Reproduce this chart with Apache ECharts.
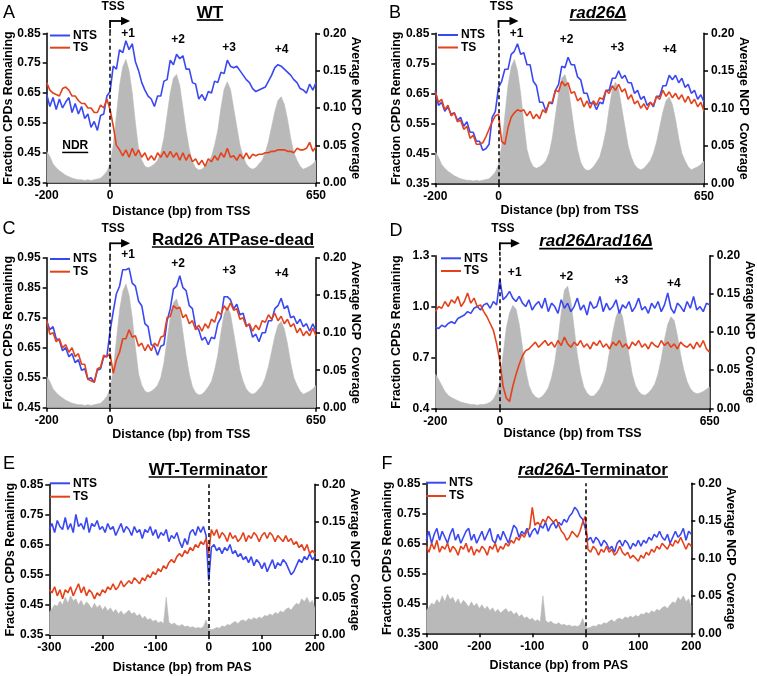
<!DOCTYPE html>
<html><head><meta charset="utf-8">
<script src="https://cdn.jsdelivr.net/npm/echarts@6/dist/echarts.min.js"></script>
<style>html,body{margin:0;padding:0;background:#fff}#c{width:757px;height:676px}</style>
</head><body><div id="c"></div>
<script>
// ---------------- DATA ----------------
// TSS panels: x from -200 to 650 bp, step 10 bp
const TSS_START = -200, TSS_STEP = 10;
// Terminator panels: x from -300 to 200 bp, step 5 bp
const TERM_START = -300, TERM_STEP = 5;

const TSS_X_TICKS = [-200, 0, 650];
const TERM_X_TICKS = [-300, -200, -100, 0, 100, 200];
const Y_TICKS_A = [0.35, 0.45, 0.55, 0.65, 0.75, 0.85];
const Y_TICKS_C = [0.45, 0.55, 0.65, 0.75, 0.85, 0.95];
const Y_TICKS_D = [0.4, 0.7, 1.0, 1.3];
const NCP_TICKS = [0, 0.05, 0.10, 0.15, 0.20];

const A_NTS = [
0.645,0.605,0.635,0.595,0.63,0.60,0.62,0.635,0.585,0.615,
0.58,0.605,0.565,0.58,0.535,0.555,0.525,0.575,0.58,0.64,
0.655,0.74,0.73,0.795,0.785,0.825,0.795,0.815,0.755,0.725,
0.685,0.66,0.64,0.63,0.605,0.64,0.64,0.69,0.695,0.76,
0.745,0.78,0.765,0.775,0.73,0.73,0.685,0.68,0.63,0.645,
0.625,0.655,0.65,0.69,0.685,0.72,0.715,0.76,0.74,0.735,
0.74,0.725,0.71,0.695,0.685,0.665,0.655,0.66,0.665,0.67,
0.69,0.71,0.735,0.745,0.74,0.73,0.72,0.71,0.695,0.685,
0.665,0.66,0.65,0.68,0.66,0.685];
const A_TS = [
0.685,0.66,0.65,0.645,0.64,0.665,0.67,0.66,0.64,0.64,
0.625,0.615,0.615,0.60,0.60,0.585,0.585,0.61,0.60,0.63,
0.595,0.54,0.475,0.46,0.44,0.46,0.435,0.465,0.44,0.46,
0.435,0.45,0.425,0.44,0.425,0.45,0.435,0.455,0.435,0.455,
0.435,0.45,0.425,0.45,0.425,0.445,0.42,0.43,0.41,0.425,
0.405,0.43,0.42,0.44,0.425,0.45,0.435,0.465,0.435,0.44,
0.425,0.445,0.43,0.45,0.43,0.445,0.44,0.445,0.445,0.45,
0.45,0.455,0.455,0.46,0.46,0.46,0.455,0.455,0.45,0.465,
0.46,0.46,0.465,0.485,0.455,0.47];
const B_NTS = [
0.66,0.61,0.62,0.59,0.605,0.58,0.585,0.56,0.57,0.54,
0.555,0.52,0.52,0.49,0.49,0.46,0.465,0.48,0.57,0.59,
0.67,0.69,0.73,0.73,0.78,0.79,0.815,0.78,0.785,0.745,
0.745,0.69,0.675,0.62,0.62,0.59,0.62,0.615,0.66,0.68,
0.74,0.735,0.77,0.745,0.745,0.705,0.695,0.65,0.65,0.615,
0.62,0.595,0.62,0.615,0.66,0.66,0.70,0.70,0.725,0.70,
0.71,0.685,0.685,0.65,0.66,0.63,0.64,0.61,0.62,0.605,
0.64,0.64,0.675,0.675,0.71,0.695,0.71,0.685,0.70,0.67,
0.68,0.65,0.66,0.63,0.645,0.62];
const B_TS = [
0.655,0.62,0.63,0.595,0.61,0.575,0.585,0.555,0.56,0.53,
0.54,0.50,0.51,0.48,0.48,0.485,0.505,0.53,0.555,0.575,
0.58,0.49,0.48,0.535,0.57,0.585,0.595,0.59,0.595,0.575,
0.59,0.565,0.58,0.565,0.595,0.585,0.62,0.62,0.66,0.655,
0.69,0.675,0.685,0.65,0.655,0.625,0.635,0.605,0.625,0.60,
0.625,0.61,0.635,0.63,0.66,0.65,0.675,0.66,0.68,0.655,
0.665,0.63,0.645,0.615,0.625,0.60,0.615,0.595,0.62,0.61,
0.64,0.63,0.66,0.64,0.655,0.635,0.65,0.63,0.645,0.62,
0.64,0.615,0.63,0.605,0.62,0.59];
const C_NTS = [
0.74,0.71,0.72,0.68,0.675,0.64,0.65,0.62,0.63,0.60,
0.61,0.575,0.58,0.545,0.55,0.535,0.575,0.58,0.62,0.62,
0.705,0.77,0.83,0.855,0.91,0.91,0.915,0.865,0.855,0.805,
0.79,0.73,0.72,0.66,0.655,0.625,0.655,0.66,0.74,0.78,
0.845,0.855,0.89,0.85,0.84,0.79,0.78,0.72,0.71,0.675,
0.685,0.66,0.685,0.68,0.73,0.75,0.82,0.82,0.81,0.78,
0.795,0.76,0.765,0.725,0.725,0.685,0.695,0.67,0.70,0.70,
0.74,0.74,0.78,0.79,0.815,0.78,0.79,0.75,0.755,0.73,
0.745,0.72,0.73,0.705,0.73,0.705];
const C_TS = [
0.74,0.695,0.70,0.67,0.68,0.65,0.66,0.635,0.65,0.62,
0.63,0.595,0.595,0.545,0.54,0.535,0.58,0.585,0.625,0.62,
0.63,0.565,0.61,0.635,0.68,0.68,0.71,0.685,0.69,0.655,
0.665,0.64,0.66,0.64,0.665,0.655,0.685,0.69,0.75,0.755,
0.79,0.78,0.785,0.75,0.76,0.73,0.74,0.71,0.725,0.705,
0.73,0.715,0.745,0.735,0.77,0.76,0.79,0.775,0.80,0.775,
0.78,0.745,0.75,0.72,0.73,0.705,0.725,0.71,0.74,0.735,
0.76,0.745,0.765,0.74,0.755,0.73,0.745,0.72,0.73,0.70,
0.715,0.69,0.705,0.69,0.715,0.69];
const D_NTS = [
0.88,0.87,0.89,0.88,0.90,0.91,0.90,0.93,0.94,0.95,
0.97,0.96,0.99,1.00,0.98,1.01,1.02,0.99,1.03,1.01,
1.16,1.04,1.06,1.09,1.05,1.03,1.06,1.02,1.00,1.04,
0.98,1.01,1.03,0.99,1.05,0.97,1.02,1.00,0.96,1.04,
0.99,1.02,0.97,1.00,1.05,0.98,1.01,0.95,1.03,0.99,
1.00,1.06,0.97,1.02,0.98,1.00,1.04,0.96,1.01,0.99,
1.03,0.97,1.00,1.05,0.98,1.00,0.96,1.02,0.99,1.03,
0.97,1.01,1.08,0.99,0.96,1.02,1.00,0.97,1.03,0.99,
1.06,0.98,1.00,0.97,1.02,1.01];
const D_TS = [
0.97,1.00,0.99,1.03,1.00,1.04,1.02,1.06,1.00,1.03,
1.08,1.02,1.05,1.00,1.01,0.97,0.94,0.90,0.86,0.78,
0.68,0.53,0.46,0.44,0.53,0.60,0.66,0.71,0.74,0.75,
0.77,0.79,0.76,0.78,0.80,0.77,0.79,0.76,0.80,0.77,
0.82,0.78,0.76,0.79,0.77,0.80,0.76,0.78,0.75,0.79,
0.77,0.80,0.76,0.78,0.75,0.79,0.77,0.80,0.76,0.78,
0.75,0.79,0.77,0.80,0.76,0.78,0.75,0.79,0.77,0.76,
0.80,0.77,0.79,0.76,0.78,0.75,0.79,0.77,0.76,0.78,
0.75,0.79,0.76,0.80,0.75,0.73];
const NCP_ABC = [
0.042,0.035,0.025,0.02,0.016,0.013,0.01,0.008,0.006,0.005,
0.004,0.004,0.003,0.004,0.003,0.004,0.005,0.006,0.01,0.015,
0.025,0.05,0.09,0.13,0.155,0.165,0.15,0.12,0.08,0.045,
0.03,0.022,0.02,0.022,0.025,0.03,0.04,0.06,0.09,0.12,
0.14,0.145,0.13,0.1,0.07,0.045,0.028,0.02,0.017,0.018,
0.022,0.028,0.035,0.05,0.07,0.1,0.125,0.135,0.125,0.1,
0.075,0.05,0.035,0.025,0.02,0.018,0.02,0.025,0.03,0.04,
0.055,0.075,0.095,0.11,0.115,0.105,0.085,0.06,0.04,0.03,
0.022,0.018,0.02,0.022,0.025,0.03];
const NCP_D = [
0.045,0.038,0.03,0.022,0.017,0.014,0.012,0.01,0.008,0.007,
0.006,0.005,0.005,0.004,0.005,0.005,0.006,0.008,0.012,0.02,
0.035,0.07,0.105,0.125,0.135,0.13,0.11,0.08,0.05,0.03,
0.02,0.015,0.013,0.015,0.02,0.027,0.04,0.06,0.09,0.125,
0.155,0.16,0.14,0.105,0.07,0.045,0.028,0.02,0.016,0.016,
0.02,0.026,0.035,0.05,0.075,0.1,0.12,0.13,0.12,0.095,
0.07,0.045,0.03,0.022,0.018,0.017,0.02,0.025,0.032,0.045,
0.065,0.09,0.11,0.12,0.115,0.095,0.07,0.05,0.035,0.026,
0.021,0.019,0.02,0.022,0.025,0.028];
const E_NTS = [
0.70,0.72,0.69,0.73,0.71,0.70,0.74,0.70,0.72,0.69,
0.75,0.71,0.72,0.70,0.74,0.69,0.72,0.71,0.73,0.70,
0.71,0.69,0.72,0.70,0.71,0.68,0.70,0.72,0.69,0.71,
0.70,0.68,0.71,0.69,0.70,0.67,0.70,0.69,0.71,0.68,
0.70,0.67,0.69,0.68,0.70,0.66,0.68,0.67,0.69,0.66,
0.64,0.67,0.65,0.69,0.70,0.68,0.71,0.69,0.71,0.68,
0.53,0.64,0.65,0.63,0.64,0.62,0.64,0.63,0.65,0.62,
0.63,0.61,0.62,0.60,0.61,0.59,0.61,0.58,0.60,0.59,
0.57,0.59,0.56,0.58,0.60,0.57,0.59,0.58,0.60,0.59,
0.57,0.55,0.56,0.58,0.60,0.59,0.61,0.60,0.62,0.60,
0.61];
const E_TS = [
0.50,0.49,0.51,0.48,0.50,0.47,0.50,0.49,0.51,0.48,
0.50,0.52,0.49,0.51,0.48,0.50,0.49,0.47,0.49,0.48,
0.50,0.49,0.51,0.50,0.52,0.50,0.51,0.53,0.51,0.52,
0.53,0.52,0.54,0.53,0.52,0.54,0.53,0.55,0.54,0.56,
0.55,0.57,0.56,0.58,0.57,0.59,0.60,0.59,0.61,0.62,
0.61,0.63,0.62,0.64,0.63,0.65,0.64,0.66,0.65,0.67,
0.62,0.70,0.68,0.70,0.67,0.69,0.68,0.66,0.69,0.67,
0.68,0.66,0.67,0.69,0.66,0.68,0.67,0.69,0.68,0.66,
0.68,0.69,0.67,0.69,0.68,0.66,0.68,0.67,0.66,0.68,
0.66,0.67,0.65,0.66,0.64,0.65,0.63,0.65,0.62,0.63,
0.62];
const F_NTS = [
0.66,0.69,0.65,0.68,0.70,0.66,0.69,0.67,0.65,0.68,
0.70,0.66,0.68,0.65,0.67,0.69,0.70,0.66,0.68,0.65,
0.67,0.69,0.66,0.68,0.70,0.66,0.65,0.68,0.66,0.69,
0.67,0.65,0.68,0.71,0.70,0.67,0.69,0.68,0.70,0.67,
0.69,0.70,0.68,0.71,0.70,0.72,0.69,0.71,0.72,0.70,
0.72,0.71,0.73,0.72,0.74,0.75,0.77,0.76,0.74,0.73,
0.70,0.66,0.67,0.65,0.67,0.66,0.64,0.66,0.65,0.63,
0.64,0.62,0.65,0.66,0.64,0.66,0.65,0.63,0.65,0.64,
0.66,0.64,0.66,0.65,0.67,0.66,0.68,0.67,0.69,0.67,
0.66,0.68,0.65,0.67,0.69,0.67,0.68,0.70,0.66,0.69,
0.68];
const F_TS = [
0.64,0.62,0.65,0.63,0.66,0.62,0.64,0.63,0.65,0.62,
0.64,0.63,0.61,0.64,0.63,0.65,0.62,0.64,0.61,0.63,
0.62,0.64,0.63,0.61,0.64,0.63,0.65,0.62,0.64,0.63,
0.65,0.64,0.66,0.65,0.67,0.66,0.68,0.67,0.69,0.70,
0.77,0.71,0.72,0.71,0.73,0.72,0.74,0.73,0.72,0.73,
0.71,0.69,0.68,0.66,0.67,0.69,0.68,0.67,0.69,0.72,
0.74,0.63,0.62,0.64,0.63,0.61,0.63,0.62,0.64,0.62,
0.63,0.61,0.62,0.64,0.62,0.61,0.62,0.60,0.61,0.60,
0.59,0.61,0.60,0.62,0.61,0.63,0.62,0.64,0.63,0.65,
0.64,0.63,0.65,0.64,0.66,0.65,0.67,0.65,0.63,0.65,
0.64];
const NCP_TERM = [
0.03,0.035,0.04,0.038,0.045,0.04,0.05,0.042,0.052,0.045,
0.048,0.04,0.046,0.038,0.044,0.04,0.035,0.042,0.036,0.04,
0.033,0.038,0.032,0.036,0.03,0.034,0.028,0.032,0.027,0.03,
0.033,0.028,0.03,0.025,0.028,0.022,0.025,0.02,0.022,0.018,
0.02,0.016,0.018,0.015,0.05,0.017,0.014,0.016,0.013,0.012,
0.014,0.011,0.012,0.01,0.011,0.009,0.01,0.009,0.011,0.02,
0.008,0.007,0.008,0.01,0.009,0.012,0.011,0.014,0.013,0.016,
0.018,0.015,0.019,0.02,0.018,0.022,0.02,0.023,0.021,0.024,
0.022,0.026,0.025,0.028,0.026,0.03,0.028,0.032,0.03,0.034,
0.036,0.033,0.038,0.042,0.04,0.048,0.044,0.05,0.042,0.046,
0.035];

// peak annotation anchors (data coords)
const PEAK_LABELS = ['+1', '+2', '+3', '+4'];
const PEAK_X_ABC = [57, 215, 376, 541];
const PEAK_X_D = [46, 206, 376, 539];
const PEAK_Y_A = [0.85, 0.828, 0.803, 0.795];
const PEAK_Y_B = [0.85, 0.828, 0.803, 0.794];
const PEAK_Y_C = [0.959, 0.931, 0.906, 0.898];
const PEAK_Y_D = [1.202, 1.176, 1.15, 1.137];

// ---------------- STYLE / LAYOUT ----------------
const FONT = '"Liberation Sans", Arial, Helvetica, sans-serif';
const BLUE = '#3a48f2', RED = '#e5421c', GRAY = '#b9b9b9';

const makeX = (start, step, n) => Array.from({length: n}, (_, k) => start + step * k);
const TSS_X = makeX(TSS_START, TSS_STEP, A_NTS.length);
const TERM_X = makeX(TERM_START, TERM_STEP, E_NTS.length);

const PANELS = [
  {letter:'A', title:[{t:'WT', i:false}], x:TSS_X, nts:A_NTS, ts:A_TS, ncp:NCP_ABC, ymin:0.35, ymax:0.85, yTicks:Y_TICKS_A, dec:2, xmin:-200, xmax:650, xTicks:TSS_X_TICKS, xName:'Distance (bp) from TSS', tss:true, peakX:PEAK_X_ABC, peakY:PEAK_Y_A},
  {letter:'B', title:[{t:'rad26Δ', i:true}], x:TSS_X, nts:B_NTS, ts:B_TS, ncp:NCP_ABC, ymin:0.35, ymax:0.85, yTicks:Y_TICKS_A, dec:2, xmin:-200, xmax:650, xTicks:TSS_X_TICKS, xName:'Distance (bp) from TSS', tss:true, peakX:PEAK_X_ABC, peakY:PEAK_Y_B},
  {letter:'C', title:[{t:'Rad26 ATPase-dead', i:false}], x:TSS_X, nts:C_NTS, ts:C_TS, ncp:NCP_ABC, ymin:0.45, ymax:0.95, yTicks:Y_TICKS_C, dec:2, xmin:-200, xmax:650, xTicks:TSS_X_TICKS, xName:'Distance (bp) from TSS', tss:true, peakX:PEAK_X_ABC, peakY:PEAK_Y_C},
  {letter:'D', title:[{t:'rad26Δrad16Δ', i:true}], x:TSS_X, nts:D_NTS, ts:D_TS, ncp:NCP_D, ymin:0.4, ymax:1.3, yTicks:Y_TICKS_D, dec:1, xmin:-200, xmax:650, xTicks:TSS_X_TICKS, xName:'Distance (bp) from TSS', tss:true, peakX:PEAK_X_D, peakY:PEAK_Y_D},
  {letter:'E', title:[{t:'WT-Terminator', i:false}], x:TERM_X, nts:E_NTS, ts:E_TS, ncp:NCP_TERM, ymin:0.35, ymax:0.85, yTicks:Y_TICKS_A, dec:2, xmin:-300, xmax:200, xTicks:TERM_X_TICKS, xName:'Distance (bp) from PAS', tss:false},
  {letter:'F', title:[{t:'rad26Δ', i:true},{t:'-Terminator', i:false}], x:TERM_X, nts:F_NTS, ts:F_TS, ncp:NCP_TERM, ymin:0.35, ymax:0.85, yTicks:Y_TICKS_A, dec:2, xmin:-300, xmax:200, xTicks:TERM_X_TICKS, xName:'Distance (bp) from PAS', tss:false}
];

const LAYOUT = [
  {grid:{left:46.7,top:33.3,width:269.3,height:149.4}, letter:[9,13], title:[210,13], legend:[50,35.5,47.7], arrowY:21, xNameGap:22},
  {grid:{left:435.3,top:33.3,width:268.7,height:150}, letter:[395,13], title:[598,13], legend:[438,35,47.5], arrowY:21, xNameGap:21},
  {grid:{left:46.7,top:257.7,width:269.3,height:150}, letter:[9,229], title:[233,240], legend:[50,259,271.7], arrowY:243.3, xNameGap:20},
  {grid:{left:435.3,top:255.7,width:274.4,height:152.6}, letter:[396,231], title:[596,241.7], legend:[441,258.3,271], arrowY:243.3, xNameGap:19},
  {grid:{left:49.3,top:484.3,width:265.7,height:150.7}, letter:[9,464], title:[208,470], legend:[50,483.3,496.7], arrowY:null, xNameGap:26},
  {grid:{left:426.3,top:483.3,width:265,height:150}, letter:[387,464], title:[593,470], legend:[426,482.7,496], arrowY:null, xNameGap:26}
];

const chart = echarts.init(document.getElementById('c'), null, {renderer:'canvas'});
const pairs = (xs, ys) => ys.map((v, k) => [xs[k], v]);
const axisLineStyle = {color:'#000', width:1.5};
const labelStyle = {fontFamily:FONT, fontWeight:'bold', fontSize:12, color:'#000'};
const nameStyle = {fontFamily:FONT, fontWeight:'bold', fontSize:12.5, color:'#000'};

const grids = [], xAxis = [], yAxis = [], series = [];
PANELS.forEach((p, i) => {
  const L = LAYOUT[i];
  grids.push(Object.assign({containLabel:false, outerBoundsMode:'none'}, L.grid));
  xAxis.push({
    type:'value', gridIndex:i, min:p.xmin, max:p.xmax,
    name:p.xName, nameLocation:'middle', nameGap:L.xNameGap, nameTextStyle:nameStyle, nameMoveOverlap:false,
    axisLine:{onZero:false, lineStyle:axisLineStyle},
    axisTick:{show:true, inside:false, length:4, lineStyle:axisLineStyle, customValues:p.xTicks},
    axisLabel:Object.assign({customValues:p.xTicks, margin:7, showMinLabel:true, showMaxLabel:true}, labelStyle),
    splitLine:{show:false}
  });
  yAxis.push({
    type:'value', gridIndex:i, position:'left', min:p.ymin, max:p.ymax,
    name:'Fraction CPDs Remaining', nameLocation:'middle', nameGap:32, nameRotate:90, nameTextStyle:nameStyle, nameMoveOverlap:false,
    axisLine:{show:true, onZero:false, lineStyle:axisLineStyle},
    axisTick:{show:true, length:4, lineStyle:axisLineStyle, customValues:p.yTicks},
    axisLabel:Object.assign({customValues:p.yTicks, margin:6, formatter:(v) => Number(v).toFixed(p.dec)}, labelStyle),
    splitLine:{show:false}
  });
  yAxis.push({
    type:'value', gridIndex:i, position:'right', min:0, max:0.2,
    name:'Average NCP  Coverage', nameLocation:'middle', nameGap:33, nameRotate:-90, nameTextStyle:nameStyle, nameMoveOverlap:false,
    axisLine:{show:true, onZero:false, lineStyle:axisLineStyle},
    axisTick:{show:true, length:4, lineStyle:axisLineStyle, customValues:NCP_TICKS},
    axisLabel:Object.assign({customValues:NCP_TICKS, margin:7, formatter:(v) => Number(v).toFixed(2)}, labelStyle),
    splitLine:{show:false}
  });
  series.push({type:'line', xAxisIndex:i, yAxisIndex:2*i+1, data:pairs(p.x, p.ncp), symbol:'none', silent:true,
    lineStyle:{width:0.6, color:GRAY}, areaStyle:{color:GRAY, opacity:1}, z:1});
  series.push({type:'line', name:'NTS', xAxisIndex:i, yAxisIndex:2*i, data:pairs(p.x, p.nts), symbol:'none', silent:true,
    lineStyle:{width:1.6, color:BLUE}, itemStyle:{color:BLUE}, z:3});
  series.push({type:'line', name:'TS', xAxisIndex:i, yAxisIndex:2*i, data:pairs(p.x, p.ts), symbol:'none', silent:true,
    lineStyle:{width:1.6, color:RED}, itemStyle:{color:RED}, z:4,
    markLine:{silent:true, symbol:['none','none'], label:{show:false}, animation:false,
      lineStyle:{color:'#000', width:1.5, type:[4,3]}, data:[{xAxis:0}]}});
});

chart.setOption({animation:false, textStyle:{fontFamily:FONT}, grid:grids, xAxis:xAxis, yAxis:yAxis, series:series});

// ---------------- ANNOTATIONS ----------------
const mctx = document.createElement('canvas').getContext('2d');
function tw(text, font){ mctx.font = font; return mctx.measureText(text).width; }
function txt(t, x, y, font, align){
  align = align || 'center';
  return {type:'text', z:100, silent:true, style:{text:t, x:x, y:y, font:font, fill:'#000', align:align, verticalAlign:'middle', textAlign:align, textVerticalAlign:'middle'}};
}
function ln(x1, y1, x2, y2, w, color, dash){
  return {type:'line', z:100, silent:true, shape:{x1:x1, y1:y1, x2:x2, y2:y2}, style:{stroke:color || '#000', lineWidth:w, lineDash:dash || null}};
}
const els = [];
PANELS.forEach((p, i) => {
  const L = LAYOUT[i], g = L.grid;
  els.push(txt(p.letter, L.letter[0], L.letter[1], '18px ' + FONT));
  const fB = 'bold 17px ' + FONT, fI = 'italic bold 17px ' + FONT;
  let w = 0, rt = '';
  p.title.forEach(s => { w += tw(s.t, s.i ? fI : fB); rt += '{' + (s.i ? 'i' : 'n') + '|' + s.t + '}'; });
  els.push({type:'text', z:100, silent:true, style:{text:rt, x:L.title[0], y:L.title[1], align:'center', verticalAlign:'middle', textAlign:'center', textVerticalAlign:'middle',
    rich:{i:{font:fI, fill:'#000'}, n:{font:fB, fill:'#000'}}}});
  els.push(ln(L.title[0] - w/2, L.title[1] + 7, L.title[0] + w/2, L.title[1] + 7, 1.7));
  const lx = L.legend[0];
  els.push(ln(lx, L.legend[1], lx + 20, L.legend[1], 2, BLUE));
  els.push(ln(lx, L.legend[2], lx + 20, L.legend[2], 2, RED));
  els.push(txt('NTS', lx + 23, L.legend[1], 'bold 12px ' + FONT, 'left'));
  els.push(txt('TS', lx + 23, L.legend[2], 'bold 12px ' + FONT, 'left'));
  if (p.tss) {
    const x0 = chart.convertToPixel({xAxisIndex:i}, 0);
    const ay = L.arrowY;
    els.push(ln(x0, g.top, x0, ay + 6, 1.5, '#000', [4,3]));
    els.push(ln(x0, ay + 7, x0, ay - 0.9, 1.8));
    els.push(ln(x0, ay, x0 + 12, ay, 1.8));
    els.push({type:'polygon', z:100, silent:true, shape:{points:[[x0 + 11, ay - 4.2], [x0 + 20, ay], [x0 + 11, ay + 4.2]]}, style:{fill:'#000'}});
    els.push(txt('TSS', x0 + 3, ay - 14.5, 'bold 12px ' + FONT));
    p.peakX.forEach((px, k) => {
      const X = chart.convertToPixel({xAxisIndex:i}, px);
      const Y = chart.convertToPixel({yAxisIndex:2*i}, p.peakY[k]);
      els.push(txt(PEAK_LABELS[k], X, Y, 'bold 12px ' + FONT));
    });
  }
  if (i === 0) {
    const X = chart.convertToPixel({xAxisIndex:0}, -110);
    const Y = chart.convertToPixel({yAxisIndex:0}, 0.473);
    const f = 'bold 12px ' + FONT;
    const ww = tw('NDR', f);
    els.push(txt('NDR', X, Y, f));
    els.push(ln(X - ww/2, Y + 6.5, X + ww/2, Y + 6.5, 1.5));
  }
});
chart.setOption({graphic:{elements:els}});
</script>
</body></html>
